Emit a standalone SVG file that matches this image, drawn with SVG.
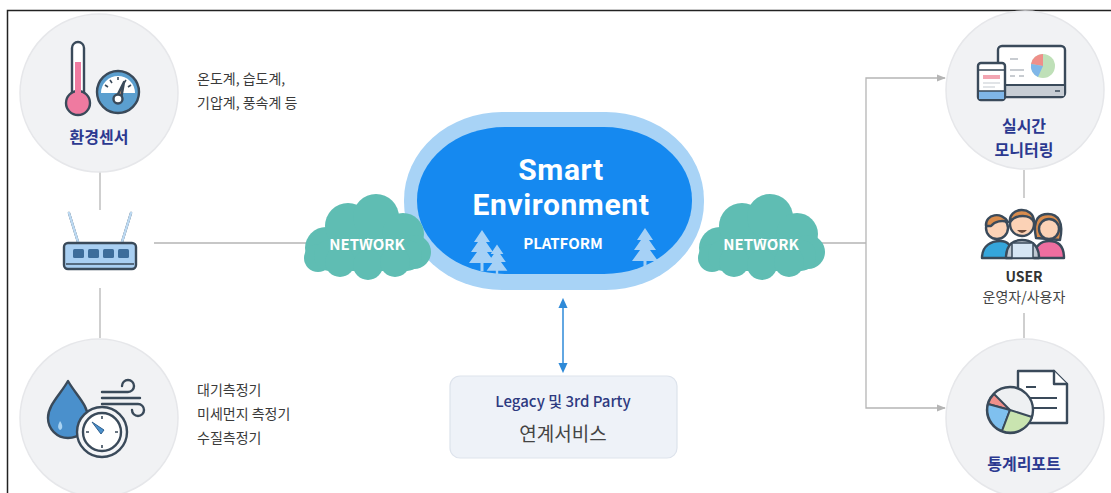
<svg xmlns="http://www.w3.org/2000/svg" width="1111" height="493" viewBox="0 0 1111 493">
  <style>
    .kr { font-family: "Noto Sans CJK KR", "Noto Sans", sans-serif; }
    .desc { font-size: 14px; fill: #3a3a3a; }
    .title { font-size: 16px; font-weight: 700; fill: #2b3990; }
    .disc { fill: #f1f2f4; stroke: #e6e7ea; stroke-width: 1.5; }
    .wire { stroke: #b5b5b5; stroke-width: 1.3; fill: none; }
    .ink { stroke: #3a4a5a; stroke-width: 2.4; stroke-linejoin: round; stroke-linecap: round; }
    .cloud { fill: #5fbdb3; }
    .net { font-size: 15px; font-weight: 700; fill: #ffffff; }
    .tree { fill: #a6d1f6; }
    .head { font-family: Roboto, "Noto Sans", sans-serif; font-size: 30px; font-weight: 700; fill: #ffffff; letter-spacing: 0.6px; }
  </style>
  <defs>
    <marker id="grayHead" viewBox="0 0 10 10" refX="9" refY="5" markerWidth="7" markerHeight="7" orient="auto">
      <path d="M0,1 L10,5 L0,9 Z" fill="#b5b5b5"/>
    </marker>
    <marker id="blueHead" viewBox="0 0 10 10" refX="8" refY="5" markerWidth="7" markerHeight="7" orient="auto-start-reverse">
      <path d="M0,0.5 L10,5 L0,9.5 Z" fill="#2e8ad8"/>
    </marker>
    <g id="cloudShape">
      <circle cx="-42" cy="8" r="21"/>
      <circle cx="-20" cy="-14" r="23"/>
      <circle cx="8" cy="-23" r="23"/>
      <circle cx="35" cy="-6" r="21"/>
      <circle cx="46" cy="12" r="17"/>
      <circle cx="-50" cy="18" r="14"/>
      <rect x="-54" y="0" width="108" height="31" rx="15"/>
      <circle cx="-28" cy="22" r="15"/>
      <circle cx="0" cy="25" r="15"/>
      <circle cx="27" cy="22" r="15"/>
    </g>
    <g id="pine">
      <path d="M0,-22 L-8,-10 L-4,-10 L-11,0 L-5,0 L-13,11 L13,11 L5,0 L11,0 L4,-10 L8,-10 Z"/>
      <rect x="-1.5" y="10" width="3" height="9"/>
    </g>
  </defs>

  <rect width="1111" height="493" fill="#ffffff"/>
  <!-- outer frame (top and left edges) -->
  <path d="M7.5,493 L7.5,10.5 L1111,10.5" fill="none" stroke="#222" stroke-width="1.5"/>

  <!-- connectors -->
  <g id="connectors">
    <line class="wire" x1="100" y1="172" x2="100" y2="210"/>
    <line class="wire" x1="100" y1="288" x2="100" y2="338"/>
    <line class="wire" x1="154" y1="243" x2="312" y2="243"/>
    <line class="wire" x1="820" y1="243" x2="866" y2="243"/>
    <polyline class="wire" points="866,243 866,78 945,78" marker-end="url(#grayHead)"/>
    <polyline class="wire" points="866,243 866,408 945,408" marker-end="url(#grayHead)"/>
    <line class="wire" x1="1024" y1="170" x2="1024" y2="198"/>
    <line class="wire" x1="1024" y1="313" x2="1024" y2="338"/>
    <line x1="563" y1="300" x2="563" y2="371" stroke="#2e8ad8" stroke-width="1.5" marker-start="url(#blueHead)" marker-end="url(#blueHead)"/>
  </g>

  <!-- environmental sensors -->
  <g id="env-sensor">
    <circle class="disc" cx="99" cy="93" r="79"/>
    <!-- thermometer -->
    <rect x="72" y="42" width="12" height="64" rx="6" fill="#ffffff" class="ink"/>
    <circle cx="78" cy="103" r="12" fill="#ef7aa0" class="ink"/>
    <rect x="75" y="62" width="6" height="42" fill="#ef7aa0"/>
    <!-- gauge -->
    <circle cx="118" cy="92" r="21" fill="#5b9fcf" class="ink"/>
    <path d="M101,93 A17,17 0 0 1 135,93 Z" fill="#ffffff"/>
    <path d="M105,85 l3,2 M110,80 l2,3 M118,77 v3 M126,80 l-2,3 M131,85 l-3,2" stroke="#3a4a5a" stroke-width="1.6"/>
    <path d="M116,98 L124,82 L121,99 Z" fill="#b98a6a" class="ink" stroke-width="1.6"/>
    <circle cx="118" cy="99" r="4.5" fill="#ffffff" class="ink" stroke-width="1.8"/>
    <text class="kr title" x="99" y="143" text-anchor="middle">환경센서</text>
  </g>
  <g id="env-sensor-text">
    <text class="kr desc" x="197" y="84">온도계, 습도계,</text>
    <text class="kr desc" x="197" y="108">기압계, 풍속계 등</text>
  </g>

  <!-- router / gateway -->
  <g id="router">
    <path d="M69,213 L78,242 M131,213 L122,242" class="ink" stroke-width="6.5"/>
    <path d="M69,213 L78,242 M131,213 L122,242" stroke="#bcd9f2" stroke-width="2.5" stroke-linecap="round"/>
    <rect x="64" y="243" width="72" height="26" rx="4" fill="#a9cff2" class="ink"/>
    <line x1="66" y1="264" x2="134" y2="264" stroke="#3a4a5a" stroke-width="1.5"/>
    <rect x="73" y="249" width="11" height="9" rx="1.5" fill="#3d6d9b"/>
    <rect x="88" y="249" width="11" height="9" rx="1.5" fill="#3d6d9b"/>
    <rect x="103" y="249" width="11" height="9" rx="1.5" fill="#3d6d9b"/>
    <rect x="118" y="249" width="11" height="9" rx="1.5" fill="#3d6d9b"/>
  </g>

  <!-- measuring devices -->
  <g id="measure">
    <circle class="disc" cx="99" cy="418" r="79"/>
    <!-- wind -->
    <path d="M102,392 H128 A6,6 0 1 0 122,386 M102,398 H140 M102,404 H138 A6,6 0 1 1 132,410" class="ink" fill="none" stroke-width="2"/>
    <!-- drop -->
    <path d="M68,381 C60,395 48,405 48,418 A20,20 0 0 0 88,418 C88,405 76,395 68,381 Z" fill="#4a90cc" class="ink"/>
    <path d="M60,421 C58,425 57,428 60,430 C63,429 63,425 60,421 Z" fill="#a9d3f2"/>
    <!-- clock -->
    <circle cx="102" cy="432" r="25" fill="#f4f5f7" class="ink"/>
    <circle cx="102" cy="432" r="19" fill="#ffffff" class="ink" stroke-width="1.8"/>
    <path d="M102,416 v3 M102,445 v3 M86,432 h3 M115,432 h3" stroke="#3a4a5a" stroke-width="1.6"/>
    <path d="M92,422 L104,430 L101,434 Z" fill="#4a90cc" stroke="#2e5f8e" stroke-width="1"/>
  </g>
  <g id="measure-text">
    <text class="kr desc" x="197" y="395">대기측정기</text>
    <text class="kr desc" x="197" y="419">미세먼지 측정기</text>
    <text class="kr desc" x="197" y="443">수질측정기</text>
  </g>

  <!-- platform -->
  <g id="platform">
    <rect x="404" y="112" width="300" height="178" rx="98" ry="88" fill="#a8d3f6"/>
    <rect x="417" y="127" width="275" height="147" rx="88" ry="73" fill="#1589f0"/>
    <use href="#pine" class="tree" transform="translate(482,252)"/>
    <use href="#pine" class="tree" transform="translate(497,262) scale(0.8)"/>
    <use href="#pine" class="tree" transform="translate(645,250)"/>
    <text class="head" x="561" y="180" text-anchor="middle">Smart</text>
    <text class="head" x="561" y="215" text-anchor="middle">Environment</text>
    <text class="kr" x="563" y="249" text-anchor="middle" font-size="15" font-weight="700" fill="#ffffff">PLATFORM</text>
  </g>

  <!-- networks -->
  <g id="network-left">
    <use href="#cloudShape" class="cloud" transform="translate(368,240)"/>
    <text class="kr net" x="367" y="250" text-anchor="middle">NETWORK</text>
  </g>
  <g id="network-right">
    <use href="#cloudShape" class="cloud" transform="translate(762,240)"/>
    <text class="kr net" x="761" y="250" text-anchor="middle">NETWORK</text>
  </g>

  <!-- legacy link -->
  <g id="legacy">
    <rect x="450" y="376" width="227" height="82" rx="10" fill="#eef2f8" stroke="#dde3ec" stroke-width="1.2"/>
    <text class="kr" x="563" y="407" text-anchor="middle" font-size="15" font-weight="500" fill="#2d3a80">Legacy 및 3rd Party</text>
    <text class="kr" x="563" y="441" text-anchor="middle" font-size="19" fill="#444444">연계서비스</text>
  </g>

  <!-- real-time monitoring -->
  <g id="monitoring">
    <circle class="disc" cx="1025" cy="90" r="79"/>
    <rect x="998" y="46" width="67" height="51" rx="4" fill="#ffffff" class="ink"/>
    <rect x="999" y="85" width="65" height="11" fill="#c7cdd4"/>
    <line x1="998" y1="85" x2="1065" y2="85" stroke="#3a4a5a" stroke-width="2"/>
    <line x1="1055" y1="91" x2="1060" y2="91" stroke="#3a4a5a" stroke-width="1.5"/>
    <circle cx="1043" cy="66" r="12" fill="#bfe0b8"/>
    <path d="M1043,66 L1043,54 A12,12 0 0 0 1031,64 Z" fill="#ef8f8a"/>
    <path d="M1043,66 L1031,64 A12,12 0 0 0 1038,77 Z" fill="#7fb6e8"/>
    <path d="M1010,59 h8 M1010,70 h14 M1010,76 h5 M1019,76 h5" stroke="#b7bcc2" stroke-width="1.5"/>
    <rect x="978" y="63" width="27" height="37" rx="3" fill="#ffffff" class="ink"/>
    <rect x="979" y="91" width="25" height="8" fill="#7fb6e8"/>
    <line x1="978" y1="70" x2="1005" y2="70" stroke="#3a4a5a" stroke-width="1.5"/>
    <line x1="978" y1="91" x2="1005" y2="91" stroke="#3a4a5a" stroke-width="1.5"/>
    <rect x="983" y="75" width="17" height="4" fill="#f2a5b2"/>
    <path d="M983,83 h17 M983,87 h12" stroke="#c4c9cf" stroke-width="1.2"/>
    <text class="kr title" x="1024" y="132" text-anchor="middle">실시간</text>
    <text class="kr title" x="1024" y="156" text-anchor="middle">모니터링</text>
  </g>

  <!-- users -->
  <g id="user">
    <!-- left -->
    <path d="M982,258 C982,245 992,241 1000,241 C1008,241 1012,245 1012,258 Z" fill="#35a6dc" class="ink" stroke-width="1.8"/>
    <circle cx="997" cy="228" r="11" fill="#fbd2b6" class="ink" stroke-width="1.8"/>
    <path d="M986,226 C985,214 1002,211 1008,222 C1002,220 995,221 991,226 Z" fill="#d98c4d" class="ink" stroke-width="1.5"/>
    <!-- right -->
    <path d="M1034,258 C1034,245 1042,241 1049,241 C1057,241 1064,245 1064,258 Z" fill="#ef6ea0" class="ink" stroke-width="1.8"/>
    <path d="M1036,238 C1032,218 1040,214 1048,214 C1058,214 1064,222 1060,240 Z" fill="#d98c4d" class="ink" stroke-width="1.5"/>
    <circle cx="1049" cy="229" r="10" fill="#fbd2b6" class="ink" stroke-width="1.8"/>
    <!-- center -->
    <path d="M1006,258 C1006,244 1014,240 1022,240 C1030,240 1039,244 1039,258 Z" fill="#bfc8d2" class="ink" stroke-width="1.8"/>
    <circle cx="1022" cy="224" r="12" fill="#fbd2b6" class="ink" stroke-width="1.8"/>
    <path d="M1010,222 C1008,207 1034,205 1034,222 C1030,214 1016,214 1010,222 Z" fill="#d98c4d" class="ink" stroke-width="1.5"/>
    <path d="M1017,230 Q1022,236 1027,230" fill="#6b4a3a"/>
    <rect x="1012" y="243" width="21" height="15" fill="#d6e6f4" stroke="#3a4a5a" stroke-width="1.5"/>
    <text class="kr" x="1024" y="282" text-anchor="middle" font-size="14" font-weight="700" fill="#333">USER</text>
    <text class="kr" x="1024" y="302" text-anchor="middle" font-size="14" fill="#444">운영자/사용자</text>
  </g>

  <!-- statistics report -->
  <g id="report">
    <circle class="disc" cx="1025" cy="418" r="79"/>
    <path d="M1018,371 H1054 L1067,384 V423 H1018 Z" fill="#ffffff" class="ink"/>
    <path d="M1054,371 V384 H1067" fill="#ffffff" class="ink"/>
    <path d="M1026,387 h10 M1030,398 h27 M1030,408 h27" stroke="#3a4a5a" stroke-width="2"/>
    <circle cx="1010" cy="410" r="23" fill="#eef0f2" class="ink"/>
    <path d="M1010,410 L994,394 A23,23 0 0 0 988,404 Z" fill="#ef8f8a" stroke="#3a4a5a" stroke-width="2" stroke-linejoin="round"/>
    <path d="M1010,410 L988,404 A23,23 0 0 0 1002,431 Z" fill="#7fc0ef" stroke="#3a4a5a" stroke-width="2" stroke-linejoin="round"/>
    <path d="M1010,410 L1002,431 A23,23 0 0 0 1032,417 Z" fill="#c9e4b0" stroke="#3a4a5a" stroke-width="2" stroke-linejoin="round"/>
    <text class="kr title" x="1024" y="470" text-anchor="middle">통계리포트</text>
  </g>
</svg>
